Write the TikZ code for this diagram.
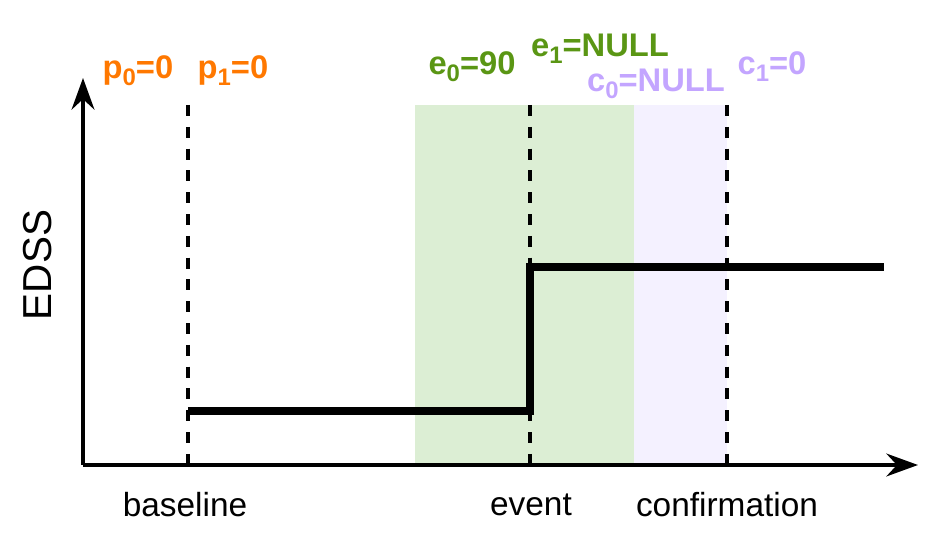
\documentclass[tikz,border=0pt]{standalone}
\usepackage{fontspec}
\setmainfont{Liberation Sans}
\usepackage{tikz}
\usetikzlibrary{arrows.meta,positioning}

\definecolor{porange}{RGB}{255,120,0}
\definecolor{egreen}{RGB}{90,150,20}
\definecolor{clilac}{RGB}{195,165,255}
\definecolor{efill}{RGB}{220,238,212}
\definecolor{cfill}{RGB}{244,241,255}

\newcommand{\lowsub}[1]{\raisebox{-1.8pt}{\fontsize{6.8}{7}\selectfont #1}}

\tikzset{
  axisline/.style={line width=1pt,-{Stealth[length=9pt,width=6.5pt,inset=3pt]}},
  markline/.style={line width=1.1pt,dash pattern=on 3.1pt off 3.1pt},
  stepline/.style={line width=2pt,line cap=butt,line join=miter},
  toplabel/.style={font=\fontsize{9.3}{11}\selectfont\bfseries,inner sep=0pt,anchor=base},
  botlabel/.style={font=\fontsize{9.5}{11}\selectfont,inner sep=1pt},
}

\begin{document}
\begin{tikzpicture}[x=0.01cm,y=-0.01cm,line join=round]
\path[use as bounding box] (0,0) rectangle (945,552);
% shaded windows
\fill[efill] (415,105) rectangle (634,465);
\fill[cfill] (634,105) rectangle (727,465);
% axes
\coordinate (origin) at (83,465);
\coordinate (xend) at (918,465);
\coordinate (yend) at (83,78);
\draw[axisline] (origin) -- (xend);
\draw[axisline] (origin) -- (yend);
\node[rotate=90,font=\fontsize{11.5}{14}\selectfont] (edss) at (38,265) {EDSS};
% time markers
\coordinate (bltop) at (188,105);  \coordinate (blbot) at (188,465);
\coordinate (evtop) at (530,105);  \coordinate (evbot) at (530,465);
\coordinate (cftop) at (727,105);  \coordinate (cfbot) at (727,465);
\draw[markline] (bltop) -- (blbot);
\draw[markline] (evtop) -- (evbot);
\draw[markline] (cftop) -- (cfbot);
% EDSS trajectory
\coordinate (s0) at (188,411);
\coordinate (s1) at (530,411);
\coordinate (s2) at (530,267);
\coordinate (s3) at (884,267);
\draw[stepline] (s0) -- (s1) -- (s2) -- (s3);
% window labels
\node[toplabel,text=porange] (p0) at (138,79) {p\lowsub{0}=0};
\node[toplabel,text=porange] (p1) at (233,79) {p\lowsub{1}=0};
\node[toplabel,text=egreen] (e0) at (472,75) {e\lowsub{0}=90};
\node[toplabel,text=egreen] (e1) at (600,57) {e\lowsub{1}=NULL};
\node[toplabel,text=clilac] (c0) at (656,92) {c\lowsub{0}=NULL};
\node[toplabel,text=clilac] (c1) at (772,75) {c\lowsub{1}=0};
% time point labels
\node[botlabel] (baseline) at (185,505) {baseline};
\node[botlabel] (event) at (531,505) {event};
\node[botlabel] (confirm) at (727,505) {confirmation};
\end{tikzpicture}
\end{document}
